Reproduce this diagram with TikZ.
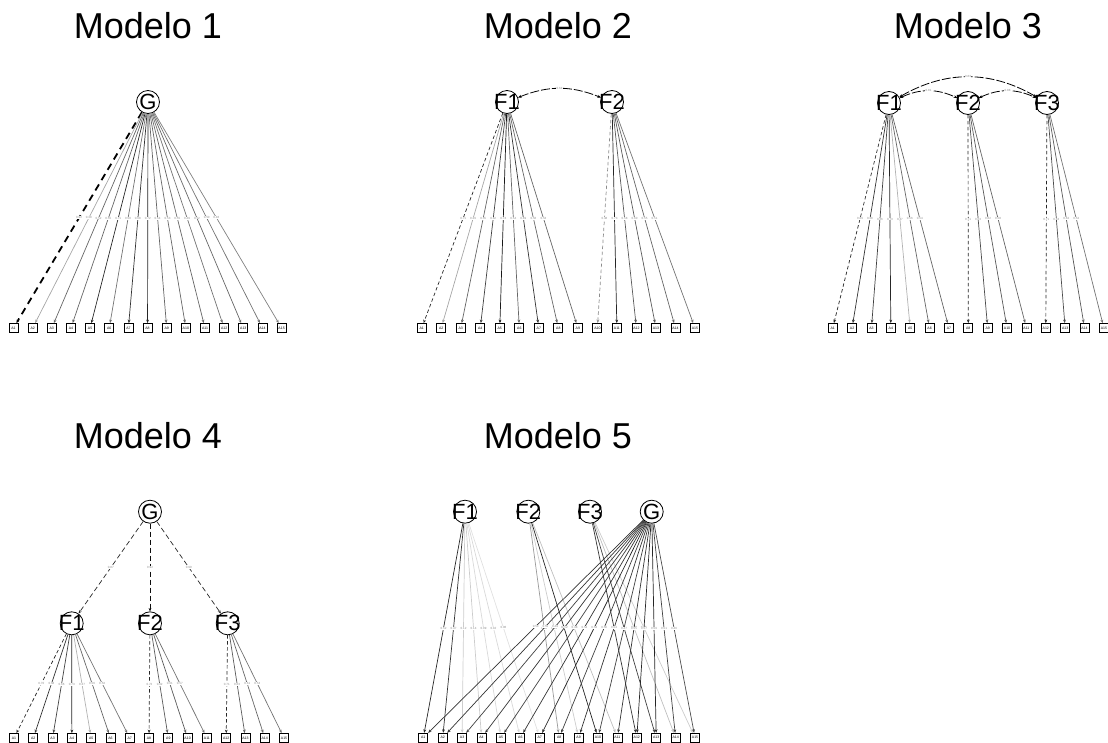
\documentclass[tikz,border=0pt]{standalone}
\usepackage{fontspec}
\setmainfont{Liberation Sans}
\usetikzlibrary{arrows.meta}
\tikzset{
  latent/.style={circle, draw, line width=0.8pt, fill=white, minimum size=23pt, inner sep=0pt,
    label={[font=\fontsize{22}{22}\selectfont, inner sep=0pt]center:#1}},
  manifest/.style={rectangle, draw, line width=0.8pt, fill=white, minimum size=9pt, inner sep=0pt, font=\fontsize{3.5}{3.5}\selectfont},
  load/.style={-{Stealth[length=3.5pt,width=2.8pt]}, line width=0.7pt},
  fixed/.style={load, dash pattern=on 3.5pt off 2.5pt},
  corr/.style={{Stealth[length=3.5pt,width=2.8pt]}-{Stealth[length=3.5pt,width=2.8pt]}, line width=0.8pt, dash pattern=on 9pt off 2pt},
  lbl/.style={fill=white, inner sep=0.4pt, font=\fontsize{3}{3}\selectfont, text=black!45},
  title/.style={anchor=base, font=\fontsize{36}{36}\selectfont}
}
\begin{document}
\begin{tikzpicture}[x=1pt, y=-1pt]
    \useasboundingbox (0,0) rectangle (1108,742);

    % Modelo 1
    \node[title] at (148,38.3) {Modelo 1};
    \node[latent=G] (m1G) at (148,102) {};
    \foreach \i [evaluate=\i as \x using {13.5+19.15*(\i-1)}] in {1,...,15}
        \node[manifest] (m1x\i) at (\x,328) {A\i};
    \draw[load, line width=1.8pt, dash pattern=on 7pt off 5pt] (m1G) -- node[lbl]{0.92} (m1x1);
    \foreach \i/\c/\v in {2/35/0.38, 3/60/0.52, 4/60/0.55, 5/85/0.71, 6/55/0.50, 7/80/0.68, 8/85/0.72,
        9/60/0.54, 10/60/0.53, 11/60/0.55, 12/55/0.49, 13/60/0.52, 14/55/0.50, 15/50/0.46}
        \draw[load, draw=black!\c] (m1G) -- node[lbl]{\v} (m1x\i);

    % Modelo 2
    \node[title] at (558,38.3) {Modelo 2};
    \node[latent=F1] (m2F1) at (507,102) {};
    \node[latent=F2] (m2F2) at (612,102) {};
    \foreach \i [evaluate=\i as \x using {421.7+19.52*(\i-1)}] in {1,...,15}
        \node[manifest] (m2x\i) at (\x,328) {A\i};
    \draw[corr] (m2F1) to[bend left=22] node[lbl]{0.64} (m2F2);
    \draw[fixed, draw=black!85] (m2F1) -- node[lbl]{0.71} (m2x1);
    \foreach \i/\c/\v in {2/35/0.39, 3/60/0.55, 4/75/0.62, 5/90/0.74, 6/60/0.54, 7/80/0.69, 8/60/0.56, 9/60/0.53}
        \draw[load, draw=black!\c] (m2F1) -- node[lbl]{\v} (m2x\i);
    \draw[fixed, draw=black!45] (m2F2) -- node[lbl]{0.48} (m2x10);
    \foreach \i/\c/\v in {11/85/0.73, 12/65/0.58, 13/65/0.60, 14/60/0.55, 15/55/0.51}
        \draw[load, draw=black!\c] (m2F2) -- node[lbl]{\v} (m2x\i);

    % Modelo 3
    \node[title] at (968,38.3) {Modelo 3};
    \node[latent=F1] (m3F1) at (889,103) {};
    \node[latent=F2] (m3F2) at (968,103) {};
    \node[latent=F3] (m3F3) at (1047,103) {};
    \foreach \i [evaluate=\i as \x using {832.7+19.37*(\i-1)}] in {1,...,15}
        \node[manifest] (m3x\i) at (\x,328) {A\i};
    \draw[corr] (m3F1) to[bend left=30] node[lbl]{0.83} (m3F3);
    \draw[corr] (m3F1) to[bend left=25] node[lbl]{0.81} (m3F2);
    \draw[corr] (m3F2) to[bend left=25] node[lbl]{0.88} (m3F3);
    \draw[fixed, draw=black!85] (m3F1) -- node[lbl]{0.69} (m3x1);
    \foreach \i/\c/\v in {2/80/0.68, 3/75/0.66, 4/85/0.73, 5/30/0.37, 6/60/0.56, 7/60/0.54}
        \draw[load, draw=black!\c] (m3F1) -- node[lbl]{\v} (m3x\i);
    \draw[fixed, draw=black!85] (m3F2) -- node[lbl]{0.71} (m3x8);
    \foreach \i/\c/\v in {9/70/0.63, 10/65/0.62, 11/60/0.58}
        \draw[load, draw=black!\c] (m3F2) -- node[lbl]{\v} (m3x\i);
    \draw[fixed, draw=black!85] (m3F3) -- node[lbl]{0.71} (m3x12);
    \foreach \i/\c/\v in {13/70/0.63, 14/65/0.62, 15/55/0.52}
        \draw[load, draw=black!\c] (m3F3) -- node[lbl]{\v} (m3x\i);

    % Modelo 4
    \node[title] at (148,448) {Modelo 4};
    \node[latent=G] (m4G) at (150,511.7) {};
    \node[latent=F1] (m4F1) at (71.7,623.3) {};
    \node[latent=F2] (m4F2) at (150,623.3) {};
    \node[latent=F3] (m4F3) at (227.7,623.3) {};
    \foreach \i [evaluate=\i as \x using {14+19.29*(\i-1)}] in {1,...,15}
        \node[manifest] (m4x\i) at (\x,738) {A\i};
    \draw[fixed, draw=black!85, dash pattern=on 5pt off 3pt] (m4G) -- node[lbl]{0.87} (m4F1);
    \draw[fixed, draw=black!95, dash pattern=on 5pt off 3pt] (m4G) -- node[lbl]{0.92} (m4F2);
    \draw[fixed, draw=black!85, dash pattern=on 5pt off 3pt] (m4G) -- node[lbl]{0.90} (m4F3);
    \draw[fixed, draw=black!85] (m4F1) -- node[lbl]{0.70} (m4x1);
    \foreach \i/\c/\v in {2/80/0.68, 3/75/0.66, 4/85/0.73, 5/30/0.37, 6/60/0.56, 7/55/0.53}
        \draw[load, draw=black!\c] (m4F1) -- node[lbl]{\v} (m4x\i);
    \draw[fixed, draw=black!85] (m4F2) -- node[lbl]{0.72} (m4x8);
    \foreach \i/\c/\v in {9/65/0.62, 10/65/0.61, 11/55/0.57}
        \draw[load, draw=black!\c] (m4F2) -- node[lbl]{\v} (m4x\i);
    \draw[fixed, draw=black!85] (m4F3) -- node[lbl]{0.71} (m4x12);
    \foreach \i/\c/\v in {13/65/0.63, 14/60/0.61, 15/55/0.53}
        \draw[load, draw=black!\c] (m4F3) -- node[lbl]{\v} (m4x\i);

    % Modelo 5
    \node[title] at (558,448) {Modelo 5};
    \node[latent=F1] (m5F1) at (465,511.7) {};
    \node[latent=F2] (m5F2) at (528.3,511.7) {};
    \node[latent=F3] (m5F3) at (590,511.7) {};
    \node[latent=G] (m5G) at (651.7,511.7) {};
    \foreach \i [evaluate=\i as \x using {423.3+19.41*(\i-1)}] in {1,...,15}
        \node[manifest] (m5x\i) at (\x,737.7) {A\i};
    \foreach \i/\c/\v in {1/85/0.52, 2/80/0.47, 3/20/0.12, 4/20/0.14, 5/15/0.09, 6/15/0.10, 7/12/0.06}
        \draw[load, draw=black!\c] (m5F1) -- node[lbl]{\v} (m5x\i);
    \foreach \i/\c/\v in {8/40/0.28, 9/20/0.13, 10/85/0.55, 11/25/0.17}
        \draw[load, draw=black!\c] (m5F2) -- node[lbl]{\v} (m5x\i);
    \foreach \i/\c/\v in {12/80/0.49, 13/75/0.46, 14/25/0.18, 15/20/0.15}
        \draw[load, draw=black!\c] (m5F3) -- node[lbl]{\v} (m5x\i);
    \foreach \i/\c/\v in {1/80/0.53, 2/80/0.55, 3/75/0.49, 4/80/0.52, 5/75/0.48, 6/80/0.54, 7/85/0.58, 8/75/0.50,
        9/80/0.54, 10/75/0.47, 11/80/0.55, 12/85/0.57, 13/85/0.59, 14/75/0.51, 15/70/0.46}
        \draw[load, draw=black!\c] (m5G) -- node[lbl]{\v} (m5x\i);
\end{tikzpicture}
\end{document}
